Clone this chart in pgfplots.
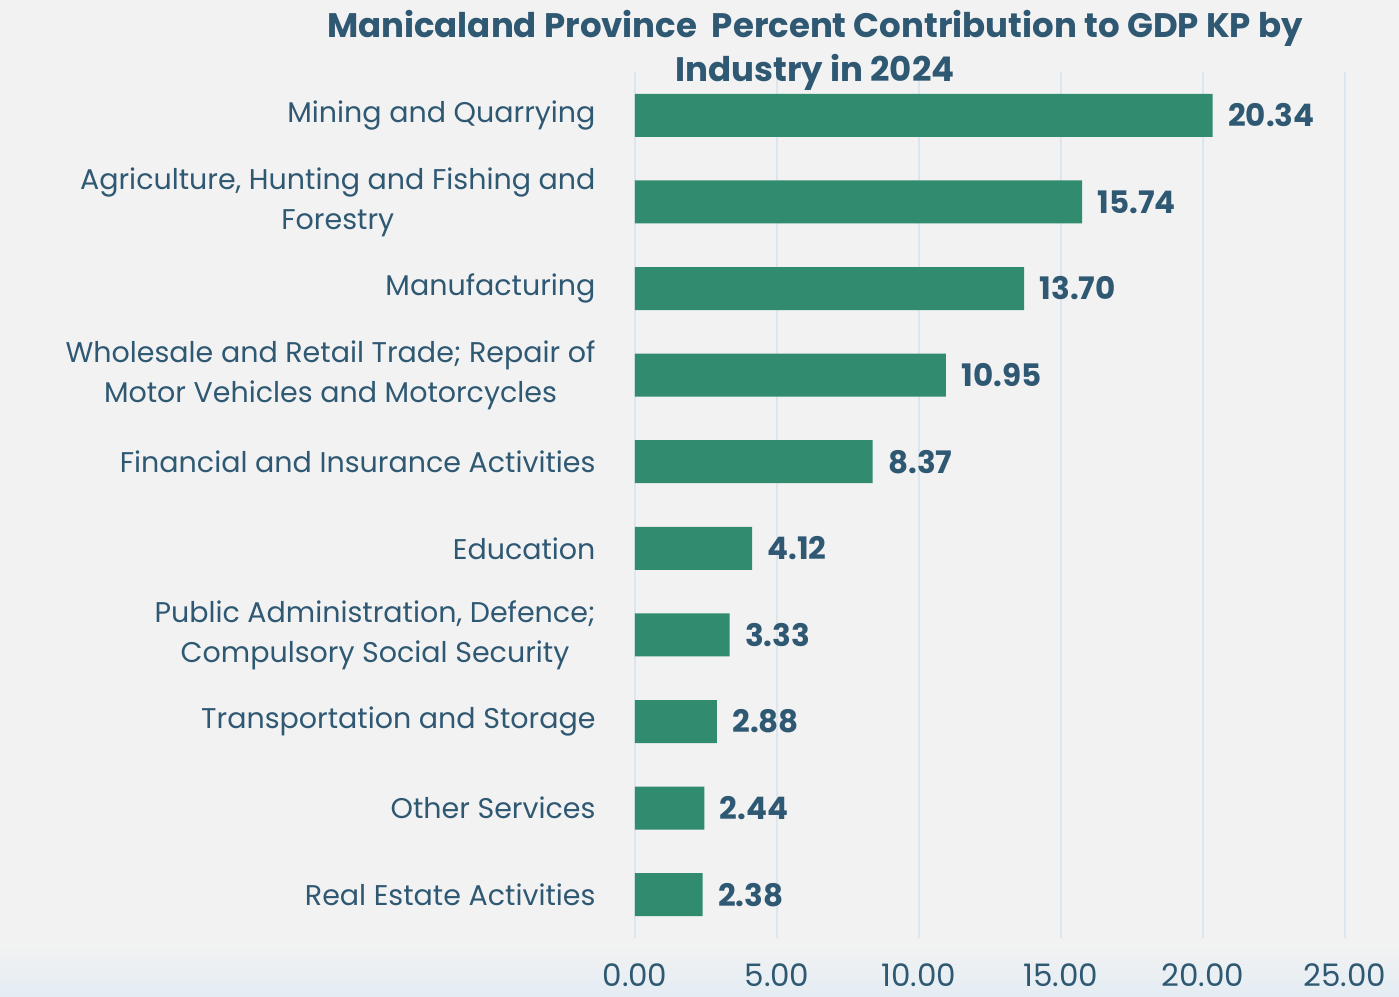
\documentclass[border=0pt]{standalone}
\usepackage{fontspec}
\setmainfont{Poppins}
\usepackage{pgfplots}
\pgfplotsset{compat=1.18}
\definecolor{bg}{HTML}{F2F2F2}
\definecolor{band}{HTML}{E4EDF3}
\definecolor{bar}{HTML}{318B6F}
\definecolor{txt}{HTML}{2F5873}
\definecolor{grd}{HTML}{DCE6EE}
\begin{document}
\begin{tikzpicture}[x=1pt,y=1pt]
\useasboundingbox (-635,-58) rectangle (764,938);
\fill[bg] (-635,-58) rectangle (764,938);
\shade[top color=bg, bottom color=band] (-635,-5) rectangle (764,-58);
\begin{axis}[
  at={(0,0)}, anchor=south west,
  scale only axis, width=710pt, height=866pt,
  xbar, bar width=43pt,
  xmin=0, xmax=25, ymin=-0.5, ymax=9.5,
  y dir=reverse,
  axis line style={draw=none},
  major tick length=0pt,
  xtick={0,5,...,25},
  xmajorgrids, grid style={grd, line width=1.2pt},
  ytick={0,...,9},
  yticklabels={
    Mining and Quarrying,
    {Agriculture, Hunting and Fishing and\\Forestry},
    Manufacturing,
    {Wholesale and Retail Trade; Repair of\\Motor Vehicles and Motorcycles},
    Financial and Insurance Activities,
    Education,
    {Public Administration, Defence;\\Compulsory Social Security},
    Transportation and Storage,
    Other Services,
    Real Estate Activities},
  yticklabel style={font=\fontsize{28.5}{40}\selectfont, text=txt, align=center, anchor=east, xshift=-36pt},
  xticklabel style={font=\fontsize{31}{36}\selectfont, text=txt, anchor=base, yshift=-48pt},
  /pgf/number format/assume math mode=true,
  xticklabel={\pgfmathprintnumber[fixed, fixed zerofill, precision=2]{\tick}},
  nodes near coords,
  nodes near coords style={font=\bfseries\fontsize{31}{36}\selectfont, text=txt, anchor=west, xshift=12pt,
    /pgf/number format/.cd, fixed, fixed zerofill, precision=2, assume math mode=true},
  clip=false,
]
\addplot[fill=bar, draw=none] coordinates {
  (20.34,0) (15.74,1) (13.70,2) (10.95,3) (8.37,4)
  (4.12,5) (3.33,6) (2.88,7) (2.44,8) (2.38,9)};
\end{axis}
\node[anchor=base, text=txt, font=\bfseries\fontsize{34}{40}\selectfont] at (180,900) {Manicaland Province\ \ Percent Contribution to GDP KP by};
\node[anchor=base, text=txt, font=\bfseries\fontsize{34}{40}\selectfont] at (180,856) {Industry in 2024};
\end{tikzpicture}
\end{document}
